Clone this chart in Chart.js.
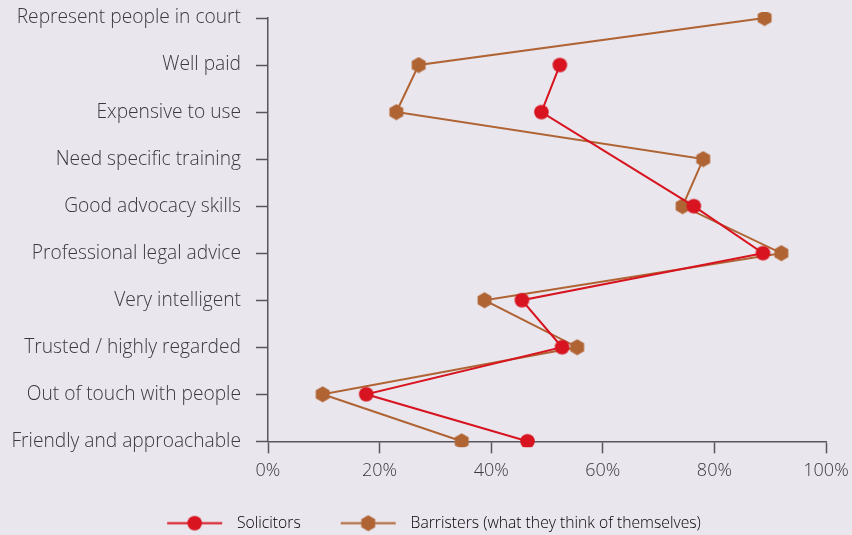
<!DOCTYPE html>
<html>
<head>
<meta charset="utf-8">
<script src="https://cdn.jsdelivr.net/npm/chart.js@4/dist/chart.umd.min.js"></script>
<style>
  html, body { margin: 0; padding: 0; background: #e9e6ed; }
  #wrap { width: 852px; height: 535px; position: relative; }
</style>
</head>
<body>
<div id="wrap"><canvas id="chart"></canvas></div>
<script>
// ---- data ----
const categories = [
  "Represent people in court",
  "Well paid",
  "Expensive to use",
  "Need specific training",
  "Good advocacy skills",
  "Professional legal advice",
  "Very intelligent",
  "Trusted / highly regarded",
  "Out of touch with people",
  "Friendly and approachable"
];
const solicitors = [null, 52.3, 49, null, 76.3, 88.7, 45.5, 52.7, 17.6, 46.5];
const barristers = [89, 27, 23, 78, 74.3, 92, 38.8, 55.4, 9.8, 34.7];
const xTicks = [0, 20, 40, 60, 80, 100];

const seriesNames = ["Solicitors", "Barristers (what they think of themselves)"];
const RED = "#d7141f";
const BROWN = "#b06434";
const AXIS = "#58565c";
const TEXT = "#3a393e";
const FONT = "'Open Sans', 'Liberation Sans', Arial, sans-serif";

// ---- marker images ----
function hexagon(ctx, cx, cy, r, color) {
  ctx.fillStyle = color;
  ctx.beginPath();
  for (let i = 0; i < 6; i++) {
    const a = Math.PI / 3 * i - Math.PI / 2;   // pointy top
    const px = cx + r * Math.cos(a), py = cy + r * Math.sin(a);
    if (i === 0) ctx.moveTo(px, py); else ctx.lineTo(px, py);
  }
  ctx.closePath();
  ctx.fill();
}

// lead = blank space before the line (legend spacing), tail = blank after it
function makeMarker(kind, color, lineLen, lead, tail) {
  const c = document.createElement("canvas");
  const w = lineLen ? lead + lineLen + tail : 17;
  c.width = w;
  c.height = 17;
  const g = c.getContext("2d");
  const cx = lineLen ? lead + lineLen / 2 : w / 2, cy = 8.5;
  if (lineLen) {
    g.strokeStyle = color;
    g.lineWidth = 2;
    g.beginPath(); g.moveTo(lead, cy); g.lineTo(lead + lineLen, cy); g.stroke();
  }
  if (kind === "circle") {
    g.fillStyle = color;
    g.beginPath(); g.arc(cx, cy, 7.3, 0, Math.PI * 2); g.fill();
  } else {
    hexagon(g, cx, cy, 8, color);
  }
  return c;
}

const redDot = makeMarker("circle", RED);
const brownHex = makeMarker("hex", BROWN);
const LEAD = 30, LINE = 55, TAIL = 7;
const legendIcons = [
  makeMarker("circle", RED, LINE, LEAD, TAIL),
  makeMarker("hex", BROWN, LINE, LEAD, TAIL)
];

// ---- chart ----
new Chart(document.getElementById("chart"), {
  type: "line",
  data: {
    labels: categories,
    datasets: [
      {
        label: seriesNames[0],
        data: solicitors,
        borderColor: RED,
        backgroundColor: RED,
        borderWidth: 2,
        pointStyle: redDot,
        spanGaps: true
      },
      {
        label: seriesNames[1],
        data: barristers,
        borderColor: BROWN,
        backgroundColor: BROWN,
        borderWidth: 2,
        pointStyle: brownHex,
        spanGaps: true
      }
    ]
  },
  options: {
    indexAxis: "y",
    responsive: true,
    maintainAspectRatio: false,
    animation: false,
    events: [],
    layout: { padding: { top: 18, right: 26, left: 12, bottom: -6 } },
    scales: {
      y: {
        type: "category",
        offset: false,
        grid: { drawOnChartArea: false, tickLength: 12, color: AXIS, tickWidth: 1.5 },
        border: { color: AXIS, width: 1.5 },
        ticks: { color: TEXT, padding: 15, font: { family: FONT, size: 19.2, weight: 300 } },
        afterFit: s => { s.width = 256; s.paddingTop = 0; s.paddingBottom = 0; }
      },
      x: {
        type: "linear",
        min: 0,
        max: 100,
        afterBuildTicks: s => { s.ticks = xTicks.map(v => ({ value: v })); },
        grid: { drawOnChartArea: false, tickLength: 12, color: AXIS, tickWidth: 1.5 },
        border: { color: AXIS, width: 1.5 },
        ticks: {
          color: TEXT,
          padding: 7,
          font: { family: FONT, size: 18, weight: 300 },
          callback: v => v + "%"
        },
        afterFit: s => { s.height = 64; s.paddingLeft = 0; s.paddingRight = 0; }
      }
    },
    plugins: {
      tooltip: { enabled: false },
      legend: {
        position: "bottom",
        labels: {
          usePointStyle: true,
          pointStyleWidth: LEAD + LINE + TAIL,
          color: TEXT,
          padding: 10,
          font: { family: FONT, size: 15.7, weight: 300 },
          generateLabels: chart => chart.data.datasets.map((ds, i) => ({
            text: ds.label,
            pointStyle: legendIcons[i],
            fillStyle: ds.borderColor,
            strokeStyle: ds.borderColor,
            lineWidth: 0,
            datasetIndex: i,
            hidden: false
          }))
        }
      }
    }
  }
});
</script>
</body>
</html>
